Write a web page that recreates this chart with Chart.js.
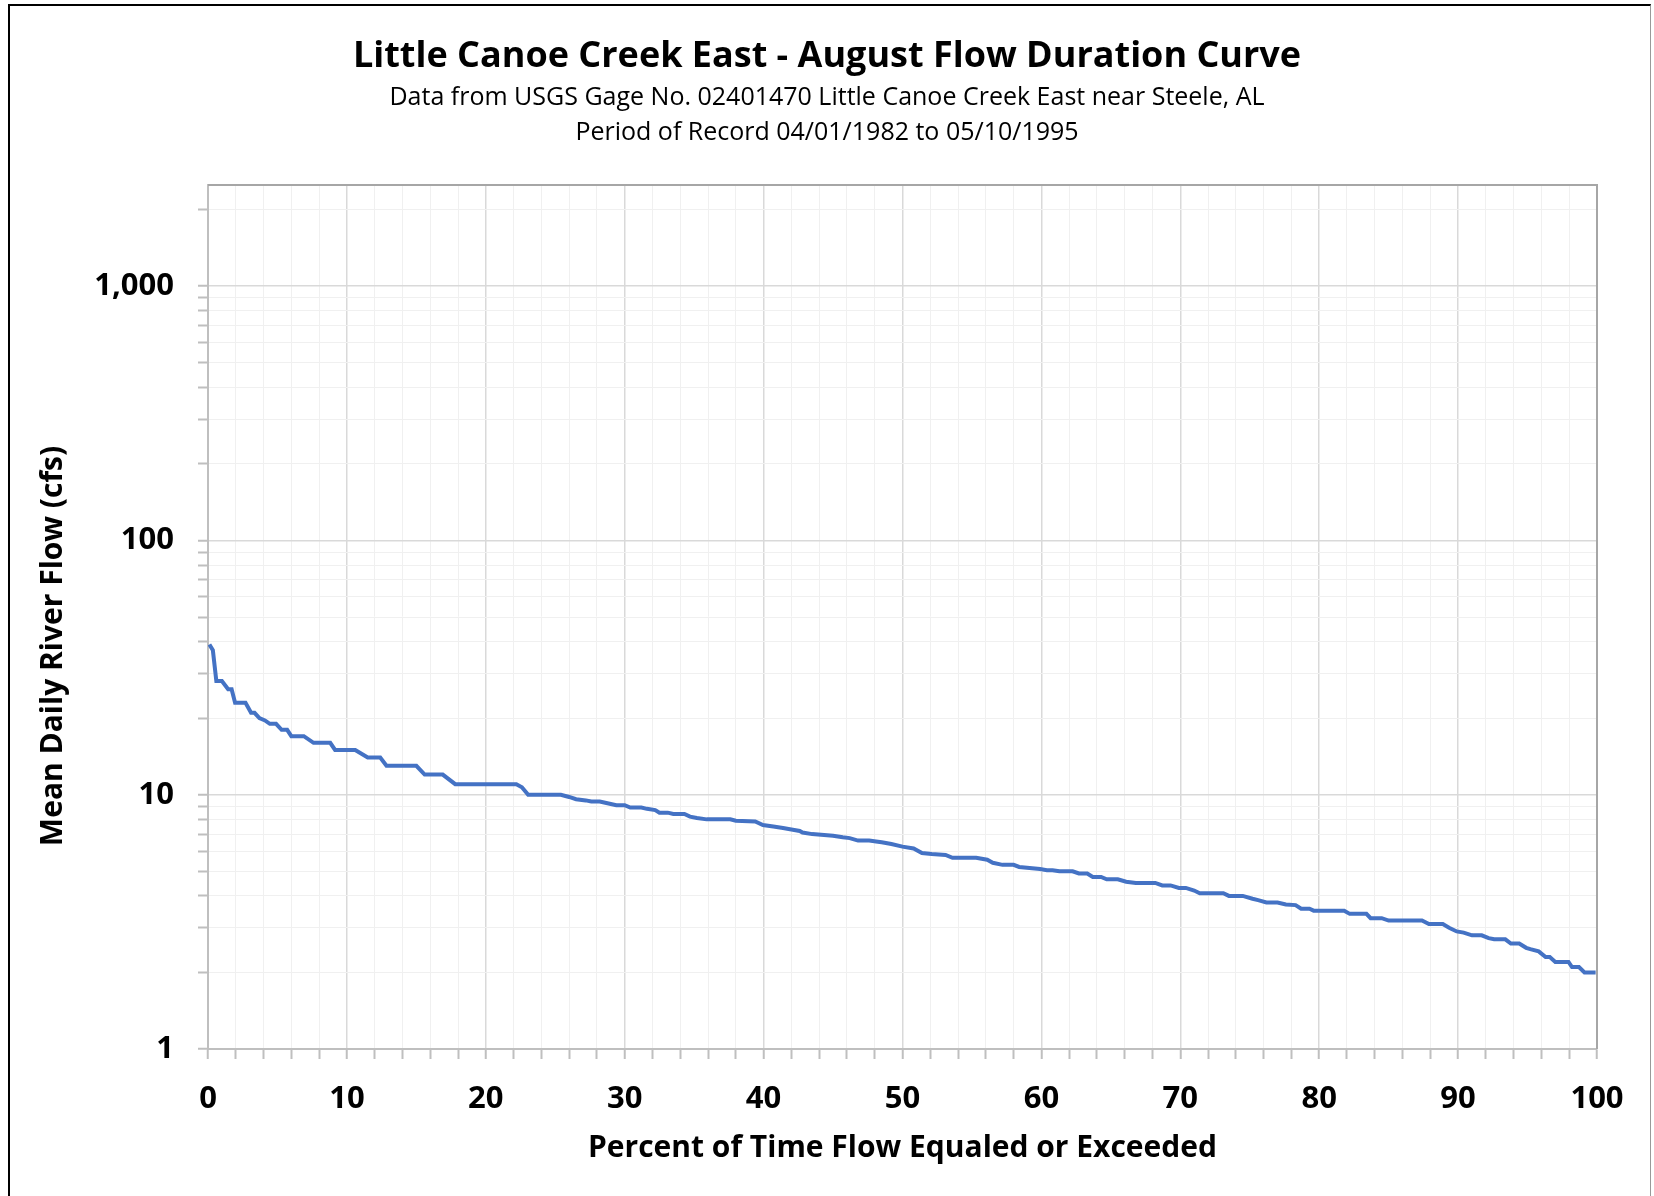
<!DOCTYPE html>
<html>
<head>
<meta charset="utf-8">
<script src="https://cdn.jsdelivr.net/npm/chart.js@4.4.1/dist/chart.umd.min.js"></script>
<style>
    html, body { margin: 0; padding: 0; background: #fff; }
    #wrap { position: relative; width: 1654px; height: 1196px; }
    #frame {
        position: absolute; left: 8px; top: 4px; width: 1643px; height: 1192px;
        border-top: 2px solid #000; border-left: 2px solid #000; border-right: 1px solid #999;
        box-sizing: border-box;
    }
    #chart { position: absolute; left: 0; top: 0; }
</style>
</head>
<body>
<div id="wrap">
    <div id="frame"></div>
    <canvas id="chart" width="1654" height="1196"></canvas>
</div>
<script>
// percent of time flow equaled or exceeded
const percentExceeded = [
    0.1, 0.35, 0.6, 1.0, 1.45, 1.7, 1.95, 2.7, 3.1, 3.35, 3.7, 4.1, 4.45, 4.9, 5.3, 5.7, 6.0, 6.9,
    7.6, 8.8, 9.15, 10.6, 11.5, 12.4, 12.85, 15.0, 15.6, 16.9, 17.8, 22.2, 22.6, 23.05, 25.4, 26.0,
    26.5, 27.2, 27.6, 28.2, 28.6, 29.0, 29.4, 30.0, 30.4, 31.2, 31.6, 32.2, 32.5, 33.1, 33.5, 34.3,
    34.7, 35.2, 35.9, 37.6, 38.0, 39.4, 39.95, 40.7, 41.4, 42.0, 42.6, 42.8, 43.5, 45.0, 45.7, 46.2,
    46.8, 47.6, 48.1, 48.5, 49.2, 50.0, 50.8, 51.4, 52.1, 53.1, 53.6, 55.3, 56.1, 56.5, 57.2, 58.0,
    58.4, 59.9, 60.4, 60.8, 61.3, 62.25, 62.7, 63.3, 63.7, 64.3, 64.7, 65.5, 66.1, 66.8, 68.2, 68.7,
    69.3, 69.9, 70.4, 71.0, 71.4, 73.1, 73.5, 74.5, 75.2, 75.6, 76.2, 77.0, 77.6, 78.3, 78.7, 79.3,
    79.6, 81.8, 82.2, 83.4, 83.7, 84.5, 85.0, 87.4, 87.9, 88.9, 89.35, 89.9, 90.4, 91.0, 91.7, 92.2,
    92.6, 93.4, 93.8, 94.4, 94.9, 95.2, 95.8, 96.3, 96.6, 97.0, 97.95, 98.2, 98.7, 99.1, 99.9
];
// mean daily river flow (cfs)
const flowCfs = [
    39, 37, 28, 28, 26, 26, 23, 23, 21, 21, 20, 19.6, 19, 19, 18, 18, 17, 17,
    16, 16, 15, 15, 14, 14, 13, 13, 12, 12, 11, 11, 10.7, 10, 10, 9.8,
    9.6, 9.5, 9.4, 9.4, 9.3, 9.2, 9.1, 9.1, 8.9, 8.9, 8.8, 8.7, 8.5, 8.5, 8.4, 8.4,
    8.2, 8.1, 8.0, 8.0, 7.9, 7.85, 7.6, 7.5, 7.4, 7.3, 7.2, 7.1, 7.0, 6.9, 6.8, 6.75,
    6.6, 6.6, 6.55, 6.5, 6.4, 6.25, 6.15, 5.9, 5.85, 5.8, 5.65, 5.65, 5.55, 5.4, 5.3, 5.3,
    5.2, 5.1, 5.05, 5.05, 5.0, 5.0, 4.9, 4.9, 4.75, 4.75, 4.65, 4.65, 4.55, 4.5, 4.5, 4.4,
    4.4, 4.3, 4.3, 4.2, 4.1, 4.1, 4.0, 4.0, 3.9, 3.85, 3.77, 3.77, 3.7, 3.68, 3.56, 3.56,
    3.5, 3.5, 3.4, 3.4, 3.27, 3.27, 3.2, 3.2, 3.1, 3.1, 3.0, 2.9, 2.87, 2.8, 2.8, 2.73,
    2.7, 2.7, 2.6, 2.6, 2.5, 2.47, 2.42, 2.3, 2.3, 2.2, 2.2, 2.1, 2.1, 2.0, 2.0
];

const yMajorTicks = [1, 10, 100, 1000];
const yMinorMultipliers = [2, 3, 4, 5, 6, 7, 8, 9];
const xTickStep = 2;
const xLabelStep = 10;

const FONT = "'Open Sans', 'Noto Sans', sans-serif";
const MAJOR_GRID = "#d9d9d9";
const MINOR_GRID = "#f0f0f0";

const yTickValues = [];
yMajorTicks.forEach(m => {
    yTickValues.push(m);
    yMinorMultipliers.forEach(k => {
        if (m * k < 2500) yTickValues.push(m * k);
    });
});

const points = percentExceeded.map((p, i) => ({ x: p, y: flowCfs[i] }));

// y axis title and the grey frame round the plot area
const plotDecor = {
    id: "plotDecor",
    afterDraw(chart) {
        const { ctx, chartArea: { left, right, top, bottom } } = chart;
        ctx.save();
        ctx.strokeStyle = "#a6a6a6";
        ctx.lineWidth = 2;
        ctx.beginPath();
        ctx.moveTo(left, top);
        ctx.lineTo(right, top);
        ctx.lineTo(right, bottom);
        ctx.stroke();

        ctx.translate(53, 646);
        ctx.rotate(-Math.PI / 2);
        ctx.font = `bold 30px ${FONT}`;
        ctx.fillStyle = "#000";
        ctx.textAlign = "center";
        ctx.textBaseline = "middle";
        ctx.fillText("Mean Daily River Flow (cfs)", 0, 0);
        ctx.restore();
    }
};

new Chart(document.getElementById("chart"), {
    type: "scatter",
    data: {
        datasets: [{
            data: points,
            showLine: true,
            borderColor: "#4472c4",
            borderWidth: 4,
            pointRadius: 0,
            tension: 0,
        }]
    },
    options: {
        responsive: false,
        animation: false,
        layout: { padding: { top: 12, left: 57, right: 57, bottom: 0 } },
        plugins: {
            legend: { display: false },
            tooltip: { enabled: false },
            title: {
                display: true,
                text: "Little Canoe Creek East - August Flow Duration Curve",
                color: "#000",
                font: { family: FONT, size: 36, weight: "bold", lineHeight: 1.2 },
                padding: { top: 23.4, bottom: 0 },
            },
            subtitle: {
                display: true,
                text: ["Data from USGS Gage No. 02401470 Little Canoe Creek East near Steele, AL",
                       "Period of Record 04/01/1982 to 05/10/1995"],
                color: "#000",
                font: { family: FONT, size: 25, lineHeight: 35 / 25 },
                padding: { top: 1.9, bottom: 34.5 },
            }
        },
        scales: {
            x: {
                type: "linear",
                min: 0,
                max: 100,
                afterFit(scale) { scale.height = 147; },
                ticks: {
                    stepSize: xTickStep,
                    autoSkip: false,
                    maxRotation: 0,
                    padding: 22,
                    color: "#000",
                    font: { family: FONT, size: 31, weight: "bold" },
                    callback: v => (v % xLabelStep === 0 ? v : ""),
                },
                grid: {
                    color: c => (c.tick && c.tick.value % xLabelStep === 0 ? MAJOR_GRID : MINOR_GRID),
                    lineWidth: c => (c.tick && c.tick.value % xLabelStep === 0 ? 1.5 : 1),
                    tickColor: "#bfbfbf",
                    tickLength: 10,
                    tickWidth: 2,
                },
                border: { color: "#bfbfbf", width: 2 },
                title: {
                    display: true,
                    text: "Percent of Time Flow Equaled or Exceeded",
                    color: "#000",
                    font: { family: FONT, size: 30, weight: "bold", lineHeight: 1.2 },
                    padding: { top: 0, bottom: 30 },
                }
            },
            y: {
                type: "logarithmic",
                min: 1,
                max: 2500,
                afterFit(scale) { scale.width = 151; },
                afterBuildTicks(scale) {
                    scale.ticks = yTickValues.map(v => ({ value: v, major: yMajorTicks.includes(v) }));
                },
                ticks: {
                    autoSkip: false,
                    padding: 24,
                    color: "#000",
                    font: { family: FONT, size: 31, weight: "bold" },
                    callback: v => (yMajorTicks.includes(v) ? v.toLocaleString("en-US") : ""),
                },
                grid: {
                    color: c => (c.tick && yMajorTicks.includes(c.tick.value) ? MAJOR_GRID : MINOR_GRID),
                    lineWidth: c => (c.tick && yMajorTicks.includes(c.tick.value) ? 1.5 : 1),
                    tickColor: "#bfbfbf",
                    tickLength: 10,
                    tickWidth: 2,
                },
                border: { color: "#bfbfbf", width: 2 },
            }
        }
    },
    plugins: [plotDecor]
});
</script>
</body>
</html>
